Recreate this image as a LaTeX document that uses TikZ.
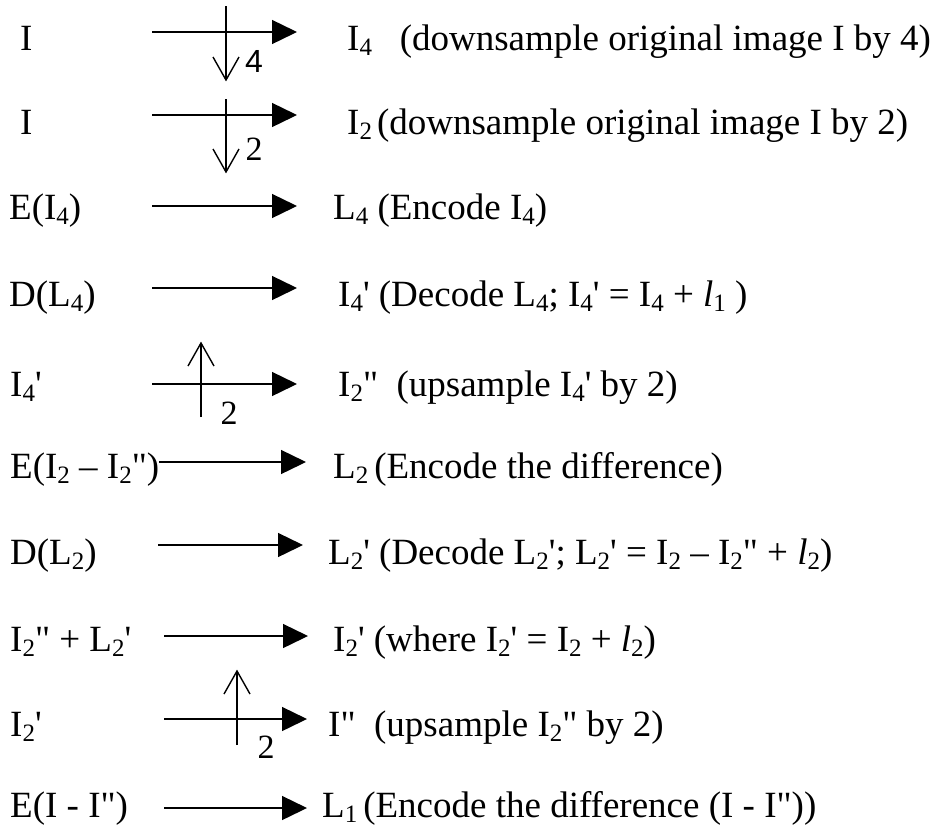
\documentclass[tikz,border=0pt]{standalone}
\usepackage{fontspec}
\usetikzlibrary{arrows.meta}
\newfontfamily\tnr{Liberation Serif}
\newfontfamily\arl{Liberation Sans}
\newcommand\dn[1]{\raisebox{-5.5pt}{\fontsize{25}{25}\selectfont #1}}
\newcommand\il{{\itshape l}}
\begin{document}
\begin{tikzpicture}[x=1pt,y=-1pt,
  txt/.style={anchor=base west,inner sep=0pt,font=\tnr\fontsize{37}{44}\selectfont},
  lbl/.style={inner sep=0pt,font=\tnr\fontsize{34}{36}\selectfont},
  lbls/.style={inner sep=0pt,font=\arl\fontsize{32}{36}\selectfont},
  flow/.style={line width=1.4pt,-{Triangle[length=25pt,width=24pt]}},
  samp/.style={line width=1.4pt},
  barb/.style={line width=1.4pt,line join=miter}]
\useasboundingbox (0,0) rectangle (941,828);
% left column
\node[txt] (l1) at (20,50) {I};
\node[txt] (l2) at (20,134) {I};
\node[txt] (l3) at (9,219) {E(I\dn{4})};
\node[txt] (l4) at (9,306) {D(L\dn{4})};
\node[txt] (l5) at (10,396) {I\dn{4}'};
\node[txt] (l6) at (10,478) {E(I\dn{2} – I\dn{2}")};
\node[txt] (l7) at (10,564) {D(L\dn{2})};
\node[txt] (l8) at (10,651) {I\dn{2}" + L\dn{2}'};
\node[txt] (l9) at (10,736) {I\dn{2}'};
\node[txt] (l10) at (10,817) {E(I - I")};
% right column
\node[txt] (r1) at (347,50) {I\dn{4}\ \ \ (downsample original image I by 4)};
\node[txt] (r2) at (347,134) {I\dn{2}\hspace{5pt}(downsample original image I by 2)};
\node[txt] (r3) at (333,219) {L\dn{4} (Encode I\dn{4})};
\node[txt] (r4) at (338,306) {I\dn{4}' (Decode L\dn{4}; I\dn{4}' = I\dn{4} + \il\dn{1} )};
\node[txt] (r5) at (338,396) {I\dn{2}"\ \ (upsample I\dn{4}' by 2)};
\node[txt] (r6) at (333,478) {L\dn{2}\hspace{6pt}(Encode the difference)};
\node[txt] (r7) at (328,564) {L\dn{2}' (Decode L\dn{2}'; L\dn{2}' = I\dn{2} – I\dn{2}" + \il\dn{2})};
\node[txt] (r8) at (333,651) {I\dn{2}' (where I\dn{2}' = I\dn{2} + \il\dn{2})};
\node[txt] (r9) at (328,736) {I"\ \ (upsample I\dn{2}" by 2)};
\node[txt] (r10) at (322,817) {L\dn{1}\hspace{6pt}(Encode the difference (I - I"))};
% arrow end points
\coordinate (s1) at (152,32);  \coordinate (e1) at (297,32);
\coordinate (s2) at (152,115); \coordinate (e2) at (297,115);
\coordinate (s3) at (152,206); \coordinate (e3) at (297,206);
\coordinate (s4) at (152,288); \coordinate (e4) at (297,288);
\coordinate (s5) at (152,384); \coordinate (e5) at (297,384);
\coordinate (s6) at (159,462); \coordinate (e6) at (306,462);
\coordinate (s7) at (158,545); \coordinate (e7) at (303,545);
\coordinate (s8) at (164,636); \coordinate (e8) at (308,636);
\coordinate (s9) at (164,719); \coordinate (e9) at (307,719);
\coordinate (s10) at (164,808); \coordinate (e10) at (307,808);
\foreach \i in {1,...,10} {\draw[flow] (s\i) -- (e\i);}
% sampling arrows
\coordinate (d1a) at (226,6);   \coordinate (d1b) at (226,80);
\coordinate (d2a) at (226,99);  \coordinate (d2b) at (226,172);
\coordinate (u5a) at (201,417); \coordinate (u5b) at (201,343);
\coordinate (u9a) at (237,745); \coordinate (u9b) at (237,671);
\draw[samp] (d1a) -- (d1b);
\draw[samp] (d2a) -- (d2b);
\draw[samp] (u5a) -- (u5b);
\draw[samp] (u9a) -- (u9b);
\draw[barb] (d1b) ++(-13,-23) -- (d1b) -- ++(13,-23);
\draw[barb] (d2b) ++(-13,-23) -- (d2b) -- ++(13,-23);
\draw[barb] (u5b) ++(-13,23) -- (u5b) -- ++(13,23);
\draw[barb] (u9b) ++(-13,23) -- (u9b) -- ++(13,23);
\node[lbls] (n1) at (254,61) {4};
\node[lbl] (n2) at (254,149) {2};
\node[lbl] (n5) at (229,413) {2};
\node[lbl] (n9) at (266,747) {2};
\end{tikzpicture}
\end{document}
